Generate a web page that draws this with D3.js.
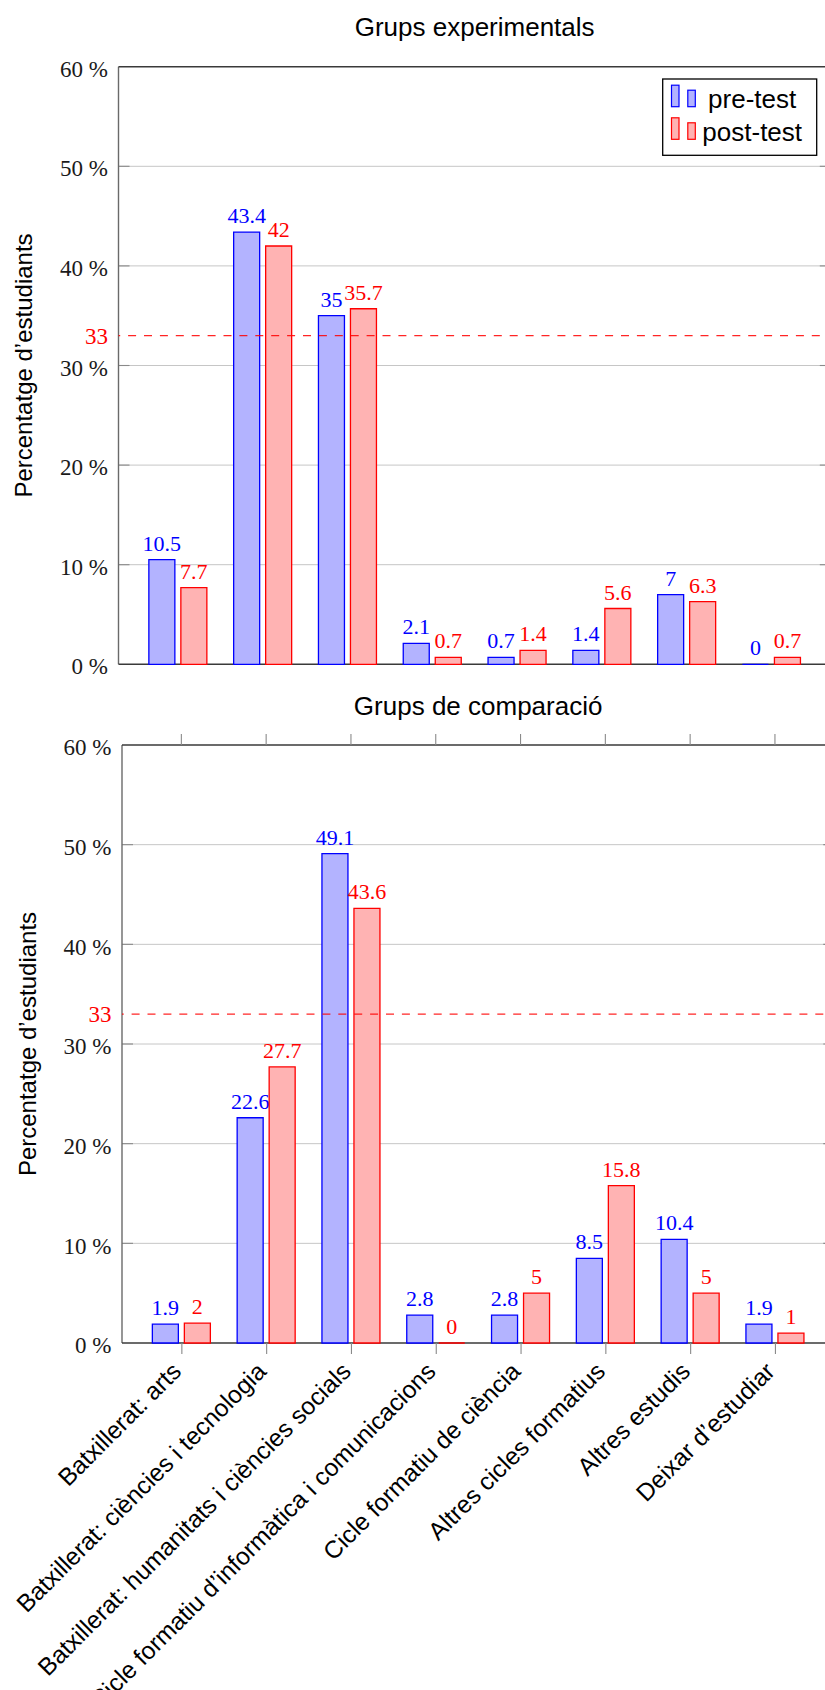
<!DOCTYPE html>
<html>
<head>
<meta charset="utf-8">
<script src="https://cdn.jsdelivr.net/npm/d3@7"></script>
<style>
  html, body { margin: 0; padding: 0; background: #ffffff; }
  svg { display: block; }
</style>
</head>
<body>
<script>
// ---- data ----
const categories = [
  "Batxillerat: arts",
  "Batxillerat: ciències i tecnologia",
  "Batxillerat: humanitats i ciències socials",
  "Cicle formatiu d’informàtica i comunicacions",
  "Cicle formatiu de ciència",
  "Altres cicles formatius",
  "Altres estudis",
  "Deixar d’estudiar"
];
const expPre   = [10.5, 43.4, 35, 2.1, 0.7, 1.4, 7, 0];
const expPost  = [7.7, 42, 35.7, 0.7, 1.4, 5.6, 6.3, 0.7];
const compPre  = [1.9, 22.6, 49.1, 2.8, 2.8, 8.5, 10.4, 1.9];
const compPost = [2, 27.7, 43.6, 0, 5, 15.8, 5, 1];
const yTicks = [0, 10, 20, 30, 40, 50, 60];
const threshold = 33;
const seriesNames = ["pre-test", "post-test"];
const panelTitles = ["Grups experimentals", "Grups de comparació"];
const yLabel = "Percentatge d’estudiants";

// ---- style ----
const W = 825, H = 1690;
const SERIF = "'Liberation Serif', 'DejaVu Serif', serif";
const SANS = "'Liberation Sans', Arial, Helvetica, sans-serif";
const BLUE = "#0000ff", BLUE_FILL = "#b3b3ff";
const RED = "#ff0000", RED_FILL = "#ffb3b3";
const GRID = "#c6c6c6", TICK = "#8a8a8a";
const AXIS_LEFT = "#6a6a6a", AXIS_H = "#3a3a3a";
const BAR_W = 26, BAR_SHIFT = 16;

const svg = d3.select("body").append("svg")
  .attr("width", W).attr("height", H)
  .attr("viewBox", `0 0 ${W} ${H}`);

function drawPanel(o) {
  const x = d3.scaleLinear().domain([-0.7, categories.length - 0.3]).range([o.left, o.right]);
  const y = d3.scaleLinear().domain([0, 60]).range([o.bottom, o.top]);
  const g = svg.append("g");
  const inner = yTicks.filter(d => d > 0 && d < 60);

  // horizontal grid lines
  g.append("g").selectAll("line").data(inner).join("line")
    .attr("x1", o.left).attr("x2", o.right)
    .attr("y1", d => y(d)).attr("y2", d => y(d))
    .attr("stroke", GRID).attr("stroke-width", 1);

  // inward y tick marks on both sides
  g.append("g").selectAll("line").data(inner).join("line")
    .attr("x1", o.left).attr("x2", o.left + 11)
    .attr("y1", d => y(d)).attr("y2", d => y(d))
    .attr("stroke", TICK).attr("stroke-width", 1.1);
  g.append("g").selectAll("line").data(inner).join("line")
    .attr("x1", o.right - 11).attr("x2", o.right)
    .attr("y1", d => y(d)).attr("y2", d => y(d))
    .attr("stroke", TICK).attr("stroke-width", 1.1);

  // frame
  g.append("line").attr("x1", o.left).attr("x2", o.left).attr("y1", o.top).attr("y2", o.bottom)
    .attr("stroke", AXIS_LEFT).attr("stroke-width", 1.4);
  g.append("line").attr("x1", o.right).attr("x2", o.right).attr("y1", o.top).attr("y2", o.bottom)
    .attr("stroke", AXIS_LEFT).attr("stroke-width", 1.4);
  g.append("line").attr("x1", o.left).attr("x2", o.right).attr("y1", o.top).attr("y2", o.top)
    .attr("stroke", AXIS_H).attr("stroke-width", 1.4);
  g.append("line").attr("x1", o.left).attr("x2", o.right).attr("y1", o.bottom).attr("y2", o.bottom)
    .attr("stroke", AXIS_H).attr("stroke-width", 1.4);

  // x ticks (outside, top and bottom) for the panel carrying category labels
  if (o.xLabels) {
    g.append("g").selectAll("line").data(d3.range(categories.length)).join("line")
      .attr("x1", d => x(d)).attr("x2", d => x(d))
      .attr("y1", o.top - 11).attr("y2", o.top)
      .attr("stroke", TICK).attr("stroke-width", 1.1);
    const xa = d3.axisBottom(x).tickValues(d3.range(categories.length))
      .tickSize(11).tickPadding(0).tickFormat(i => categories[i]);
    const xg = g.append("g").attr("transform", `translate(0,${o.bottom})`).call(xa);
    xg.select(".domain").remove();
    xg.selectAll(".tick line").attr("stroke", TICK).attr("stroke-width", 1.1);
    xg.selectAll(".tick text")
      .attr("x", 0).attr("y", 0).attr("dy", "0.34em")
      .attr("text-anchor", "end")
      .attr("transform", "translate(-5,24) rotate(-45)")
      .attr("font-family", SANS).attr("font-size", 24.5).attr("fill", "#000");
  }

  // bars
  const series = [
    { vals: o.pre, fill: BLUE_FILL, stroke: BLUE, shift: -BAR_SHIFT },
    { vals: o.post, fill: RED_FILL, stroke: RED, shift: BAR_SHIFT }
  ];
  series.forEach(s => {
    g.append("g").selectAll("path").data(s.vals).join("path")
      .attr("d", (v, i) => {
        const x0 = x(i) + s.shift - BAR_W / 2, x1 = x0 + BAR_W;
        return `M${x0},${y(0)}V${y(v)}H${x1}V${y(0)}Z`;
      })
      .attr("fill", s.fill).attr("stroke", s.stroke).attr("stroke-width", 1.3);
    g.append("g").selectAll("text").data(s.vals).join("text")
      .attr("x", (v, i) => x(i) + s.shift)
      .attr("y", v => y(v) - 9)
      .attr("text-anchor", "middle")
      .attr("font-family", SERIF).attr("font-size", 22)
      .attr("fill", s.stroke)
      .text(v => String(v));
  });

  // threshold line
  g.append("line")
    .attr("x1", o.left).attr("x2", o.right)
    .attr("y1", y(threshold)).attr("y2", y(threshold))
    .attr("stroke", RED).attr("stroke-width", 1.3)
    .attr("stroke-dasharray", "8,7.9").attr("stroke-dashoffset", 6.3)
    .attr("opacity", 0.85);
  g.append("text")
    .attr("x", o.left - 10.5).attr("y", y(threshold)).attr("dy", "0.36em")
    .attr("text-anchor", "end")
    .attr("font-family", SERIF).attr("font-size", 23).attr("fill", RED)
    .text(threshold);

  // y tick labels
  const ya = d3.axisLeft(y).tickValues(yTicks).tickSize(0).tickPadding(10.5)
    .tickFormat(d => d + " %");
  const yg = g.append("g").attr("transform", `translate(${o.left},0)`).call(ya);
  yg.select(".domain").remove();
  yg.selectAll(".tick line").remove();
  yg.selectAll(".tick text")
    .attr("dy", "0.42em")
    .attr("font-family", SERIF).attr("font-size", 23).attr("fill", "#1a1a1a");

  // y axis title
  const ym = (o.top + o.bottom) / 2;
  g.append("text")
    .attr("transform", `translate(${o.left - 86.3},${ym}) rotate(-90)`)
    .attr("text-anchor", "middle")
    .attr("font-family", SANS).attr("font-size", 24).attr("fill", "#000")
    .text(yLabel);

  // panel title
  g.append("text")
    .attr("x", (o.left + o.right) / 2).attr("y", o.top - 30.5)
    .attr("text-anchor", "middle")
    .attr("font-family", SANS).attr("font-size", 26).attr("fill", "#000")
    .text(o.title);

  // legend
  if (o.legend) {
    const lg = g.append("g");
    lg.append("rect")
      .attr("x", 662.7).attr("y", 79).attr("width", 154).attr("height", 76.3)
      .attr("fill", "#fff").attr("stroke", "#000").attr("stroke-width", 1.3);
    const entries = [
      { name: seriesNames[0], fill: BLUE_FILL, stroke: BLUE, base: 106.7 },
      { name: seriesNames[1], fill: RED_FILL, stroke: RED, base: 139.3 }
    ];
    entries.forEach(e => {
      lg.append("rect").attr("x", 671.5).attr("y", e.base - 21.5).attr("width", 7.5).attr("height", 21.5)
        .attr("fill", e.fill).attr("stroke", e.stroke).attr("stroke-width", 1.2);
      lg.append("rect").attr("x", 687.8).attr("y", e.base - 16.5).attr("width", 7.5).attr("height", 16.5)
        .attr("fill", e.fill).attr("stroke", e.stroke).attr("stroke-width", 1.2);
      lg.append("text")
        .attr("x", 752.2).attr("y", e.base + 1.3)
        .attr("text-anchor", "middle")
        .attr("font-family", SANS).attr("font-size", 26).attr("fill", "#000")
        .text(e.name);
    });
  }
}

drawPanel({
  left: 118.5, right: 830.8, top: 66.7, bottom: 664.3,
  title: panelTitles[0], pre: expPre, post: expPost, legend: true, xLabels: false
});
drawPanel({
  left: 122, right: 834.3, top: 745, bottom: 1343,
  title: panelTitles[1], pre: compPre, post: compPost, legend: false, xLabels: true
});
</script>
</body>
</html>
